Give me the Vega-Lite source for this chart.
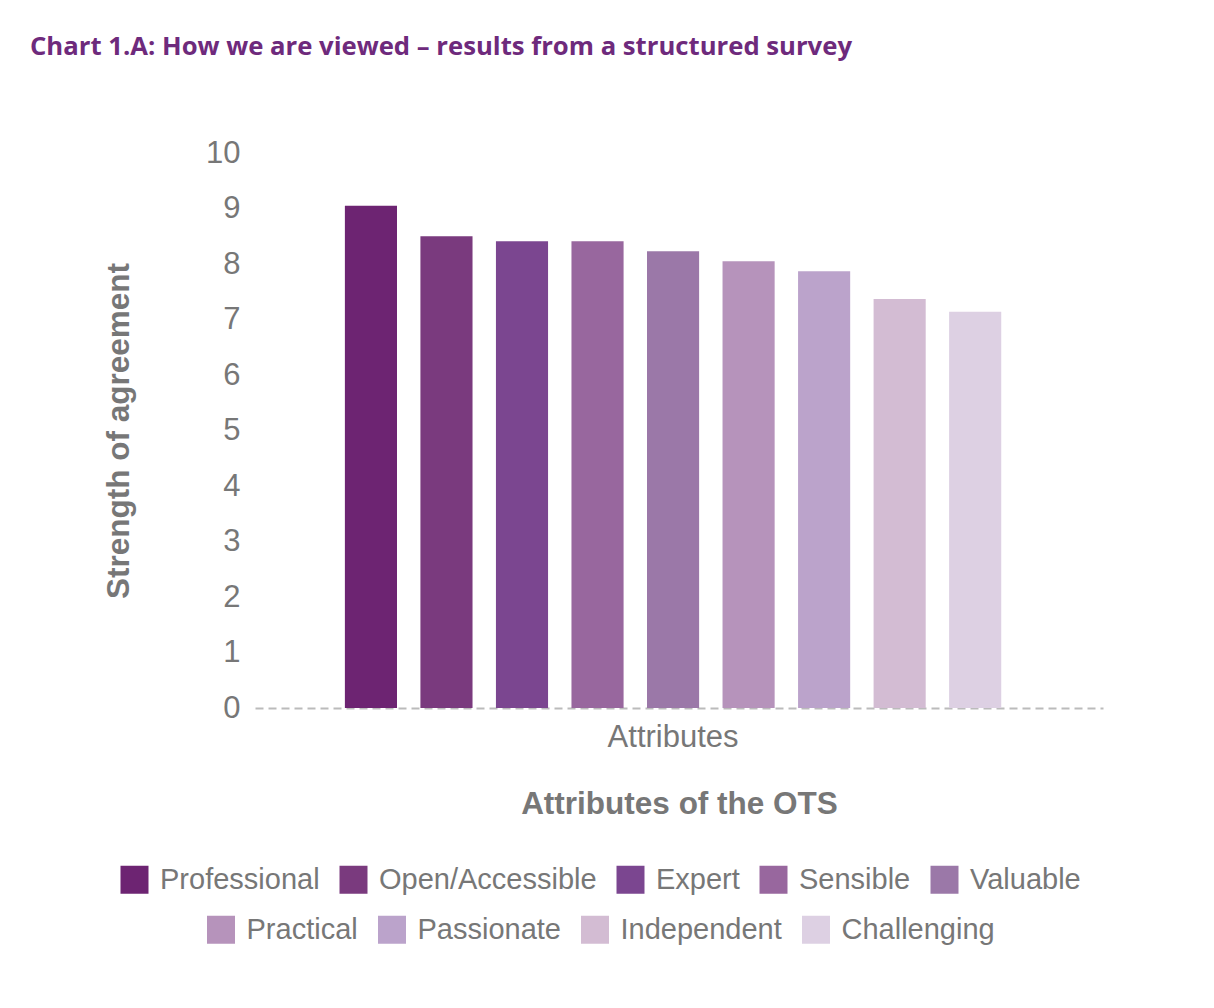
{
  "$schema": "https://vega.github.io/schema/vega-lite/v6.json",
  "autosize": "none",
  "width": 848,
  "height": 555,
  "padding": {"left": 255, "top": 153, "right": 111, "bottom": 300},
  "background": "white",
  "title": {
    "text": "Chart 1.A: How we are viewed – results from a structured survey",
    "anchor": "start",
    "frame": "group",
    "dx": -225,
    "offset": 76,
    "font": "Open Sans",
    "fontSize": 25.7,
    "fontWeight": "bold",
    "color": "#6e2a7c"
  },
  "data": {
    "values": [
      {"group": "Attributes", "attribute": "Professional", "value": 9.05},
      {"group": "Attributes", "attribute": "Open/Accessible", "value": 8.5},
      {"group": "Attributes", "attribute": "Expert", "value": 8.41},
      {"group": "Attributes", "attribute": "Sensible", "value": 8.41},
      {"group": "Attributes", "attribute": "Valuable", "value": 8.23},
      {"group": "Attributes", "attribute": "Practical", "value": 8.05},
      {"group": "Attributes", "attribute": "Passionate", "value": 7.87},
      {"group": "Attributes", "attribute": "Independent", "value": 7.37},
      {"group": "Attributes", "attribute": "Challenging", "value": 7.14}
    ]
  },
  "encoding": {
    "x": {
      "field": "group",
      "type": "nominal",
      "scale": {"paddingInner": 0, "paddingOuter": 0.146, "align": 0.469},
      "axis": {
        "title": "Attributes of the OTS",
        "labelAngle": 0,
        "ticks": false,
        "labelPadding": 14,
        "titlePadding": 36,
        "domainDash": [8, 5],
        "domainColor": "#bbbbbb",
        "domainWidth": 2
      }
    },
    "xOffset": {
      "field": "attribute",
      "type": "nominal",
      "sort": null,
      "scale": {
        "domain": ["Professional", "Open/Accessible", "Expert", "Sensible", "Valuable", "Practical", "Passionate", "Independent", "Challenging"],
        "paddingInner": 0.31,
        "paddingOuter": 0
      }
    },
    "y": {
      "field": "value",
      "type": "quantitative",
      "scale": {"domain": [0, 10]},
      "axis": {
        "title": "Strength of agreement",
        "values": [0, 1, 2, 3, 4, 5, 6, 7, 8, 9, 10],
        "labelOverlap": false,
        "grid": false,
        "domain": false,
        "ticks": false,
        "labelPadding": 15,
        "titlePadding": 70
      }
    }
  },
  "layer": [
    {
      "transform": [{"filter": {"field": "attribute", "oneOf": ["Professional", "Open/Accessible", "Expert", "Sensible", "Valuable"]}}],
      "mark": {"type": "bar"},
      "encoding": {
        "color": {
          "field": "attribute",
          "type": "nominal",
          "sort": null,
          "scale": {
            "domain": ["Professional", "Open/Accessible", "Expert", "Sensible", "Valuable"],
            "range": ["#6d2472", "#7a3a7e", "#7b4690", "#98679e", "#9b78a8"]
          },
          "legend": {"title": " "}
        }
      }
    },
    {
      "transform": [{"filter": {"field": "attribute", "oneOf": ["Practical", "Passionate", "Independent", "Challenging"]}}],
      "mark": {"type": "bar"},
      "encoding": {
        "color": {
          "field": "attribute",
          "type": "nominal",
          "sort": null,
          "scale": {
            "domain": ["Practical", "Passionate", "Independent", "Challenging"],
            "range": ["#b693bb", "#bba3cb", "#d3bcd3", "#ddd0e3"]
          },
          "legend": {"title": " "}
        }
      }
    }
  ],
  "resolve": {"scale": {"color": "independent"}},
  "config": {
    "font": "Liberation Sans",
    "view": {"stroke": null},
    "axis": {
      "labelFont": "Liberation Sans",
      "labelFontSize": 31,
      "labelColor": "#777777",
      "titleFont": "Liberation Sans",
      "titleFontSize": 31.5,
      "titleFontWeight": "bold",
      "titleColor": "#777777"
    },
    "legend": {
      "orient": "bottom",
      "direction": "horizontal",
      "offset": 45,
      "titleOrient": "right",
      "titleFontSize": 1,
      "titlePadding": 157,
      "symbolType": "square",
      "symbolSize": 784,
      "symbolStrokeWidth": 0,
      "symbolOpacity": 1,
      "labelFont": "Liberation Sans",
      "labelFontSize": 29,
      "labelColor": "#777777",
      "labelOffset": 11,
      "columnPadding": 19,
      "labelLimit": 400,
      "layout": {"bottom": {"anchor": "middle", "direction": "vertical", "center": true, "margin": 20}}
    }
  }
}
